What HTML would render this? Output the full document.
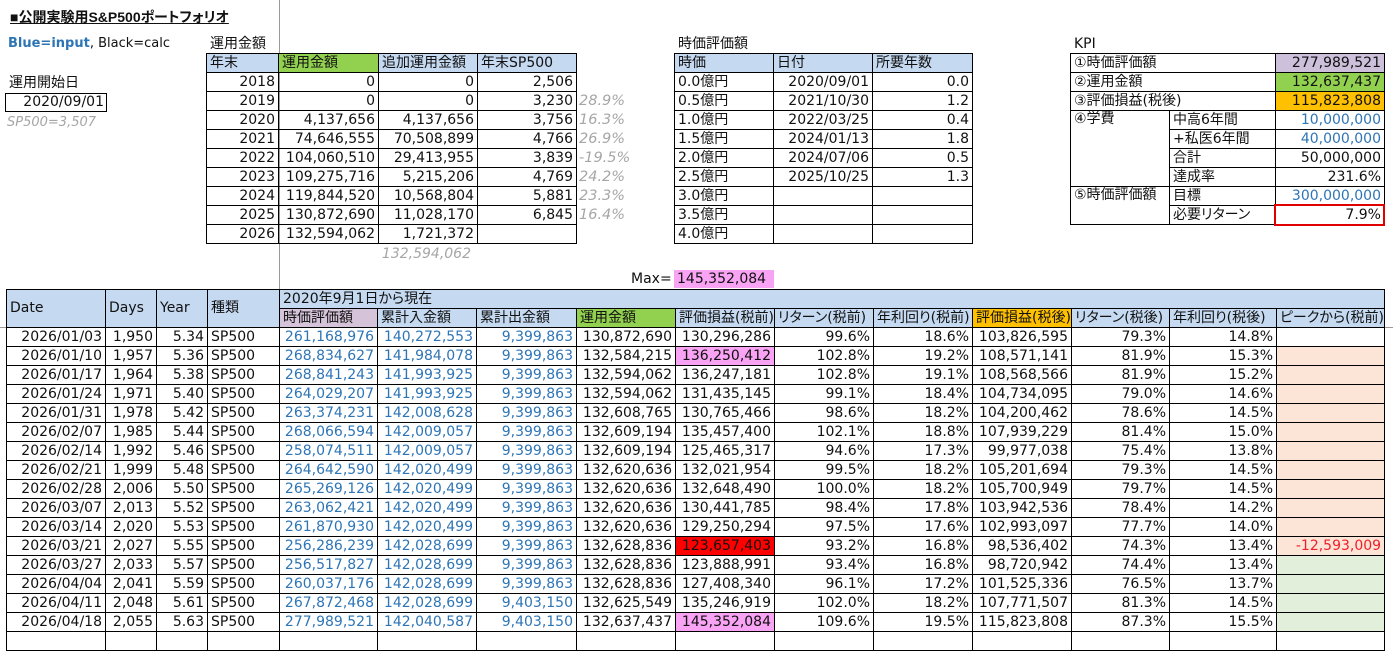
<!DOCTYPE html>
<html><head><meta charset="utf-8">
<style>
body{margin:0;width:1393px;height:640px;overflow:hidden;background:#fff;position:relative;font-family:"DejaVu Sans","Noto Sans CJK JP",sans-serif;font-size:14px;color:#111;font-feature-settings:"palt";}
.a{position:absolute;white-space:nowrap;}
table{border-collapse:collapse;table-layout:fixed;position:absolute;}
tr{height:19px;}
td{border:1px solid #000;padding:0 3px;white-space:nowrap;overflow:hidden;line-height:17px;font-size:14px;}
.r{text-align:right;}
.b{background:#c5d9f1;}
.g{background:#92d050;}
.o{background:#ffc000;}
.lv{background:#d5c3d9;}
.lk{background:#ccc0da;}
.bl{color:#2e75b6;}
.pk{background:#f9a3f4;}
.rd{background:#ff0000;}
.pe{background:#fce4d6;}
.gr{background:#e2efda;}
.gi{color:#a6a6a6;font-style:italic;}
.top{vertical-align:top;}
</style></head><body>
<div class="a" style="left:279px;top:0;width:1px;height:640px;background:#9a9a9a;"></div>
<div class="a" style="left:0;top:327px;width:1393px;height:1px;background:#9a9a9a;"></div>

<div class="a" style="left:10px;top:8px;font-family:'Liberation Sans','Noto Sans CJK JP',sans-serif;font-weight:bold;font-size:14px;text-decoration:underline;line-height:19px;">■公開実験用S&amp;P500ポートフォリオ</div>
<div class="a" style="left:8px;top:36px;font-size:13px;line-height:16px;"><b style="color:#2e75b6">Blue=input</b>, Black=calc</div>
<div class="a" style="left:9px;top:74px;font-size:14px;line-height:18px;">運用開始日</div>
<div class="a" style="left:5px;top:93px;width:98px;height:17px;border:1px solid #000;text-align:right;padding-right:2px;line-height:17px;font-size:14px;box-sizing:content-box;">2020/09/01</div>
<div class="a gi" style="left:7px;top:115px;font-size:13px;line-height:16px;">SP500=3,507</div>

<div class="a" style="left:210px;top:35px;line-height:18px;">運用金額</div>
<table style="left:206px;top:53px;width:370px;">
<col style="width:72px"><col style="width:100px"><col style="width:99px"><col style="width:99px">
<tr><td class="b">年末</td><td class="g">運用金額</td><td class="b">追加運用金額</td><td class="b">年末SP500</td></tr>
<tr><td class="r">2018</td><td class="r">0</td><td class="r">0</td><td class="r">2,506</td></tr>
<tr><td class="r">2019</td><td class="r">0</td><td class="r">0</td><td class="r">3,230</td></tr>
<tr><td class="r">2020</td><td class="r">4,137,656</td><td class="r">4,137,656</td><td class="r">3,756</td></tr>
<tr><td class="r">2021</td><td class="r">74,646,555</td><td class="r">70,508,899</td><td class="r">4,766</td></tr>
<tr><td class="r">2022</td><td class="r">104,060,510</td><td class="r">29,413,955</td><td class="r">3,839</td></tr>
<tr><td class="r">2023</td><td class="r">109,275,716</td><td class="r">5,215,206</td><td class="r">4,769</td></tr>
<tr><td class="r">2024</td><td class="r">119,844,520</td><td class="r">10,568,804</td><td class="r">5,881</td></tr>
<tr><td class="r">2025</td><td class="r">130,872,690</td><td class="r">11,028,170</td><td class="r">6,845</td></tr>
<tr><td class="r">2026</td><td class="r">132,594,062</td><td class="r">1,721,372</td><td class="r"></td></tr>
</table>
<div class="a gi" style="left:579px;top:92px;line-height:19px;font-size:14.5px;">28.9%<br>16.3%<br>26.9%<br>-19.5%<br>24.2%<br>23.3%<br>16.4%</div>
<div class="a gi" style="left:376px;top:245px;width:95px;text-align:right;line-height:19px;font-size:14px;">132,594,062</div>

<div class="a" style="left:678px;top:35px;line-height:18px;">時価評価額</div>
<table style="left:674px;top:53px;width:298px;">
<col style="width:99px"><col style="width:99px"><col style="width:100px">
<tr><td class="b">時価</td><td class="b">日付</td><td class="b">所要年数</td></tr>
<tr><td>0.0億円</td><td class="r">2020/09/01</td><td class="r">0.0</td></tr>
<tr><td>0.5億円</td><td class="r">2021/10/30</td><td class="r">1.2</td></tr>
<tr><td>1.0億円</td><td class="r">2022/03/25</td><td class="r">0.4</td></tr>
<tr><td>1.5億円</td><td class="r">2024/01/13</td><td class="r">1.8</td></tr>
<tr><td>2.0億円</td><td class="r">2024/07/06</td><td class="r">0.5</td></tr>
<tr><td>2.5億円</td><td class="r">2025/10/25</td><td class="r">1.3</td></tr>
<tr><td>3.0億円</td><td></td><td></td></tr>
<tr><td>3.5億円</td><td></td><td></td></tr>
<tr><td>4.0億円</td><td></td><td></td></tr>
</table>
<div class="a" style="left:631px;top:270px;line-height:18px;">Max=</div>
<div class="a pk" style="left:674px;top:270px;width:97px;height:18px;padding-left:3px;line-height:18px;">145,352,084</div>

<div class="a" style="left:1074px;top:35px;line-height:18px;">KPI</div>
<table style="left:1070px;top:53px;width:314px;">
<col style="width:99px"><col style="width:106px"><col style="width:109px">
<tr><td colspan="2">①時価評価額</td><td class="r lk">277,989,521</td></tr>
<tr><td colspan="2">②運用金額</td><td class="r g">132,637,437</td></tr>
<tr><td colspan="2">③評価損益(税後)</td><td class="r o">115,823,808</td></tr>
<tr><td rowspan="4" class="top">④学費</td><td>中高6年間</td><td class="r bl">10,000,000</td></tr>
<tr><td>+私医6年間</td><td class="r bl">40,000,000</td></tr>
<tr><td>合計</td><td class="r">50,000,000</td></tr>
<tr><td>達成率</td><td class="r">231.6%</td></tr>
<tr><td rowspan="2" class="top">⑤時価評価額</td><td>目標</td><td class="r bl">300,000,000</td></tr>
<tr><td>必要リターン</td><td class="r">7.9%</td></tr>
</table>
<div class="a" style="left:1274px;top:204px;width:107px;height:18px;border:2px solid #e00000;"></div>

<table style="left:6px;top:289px;width:1378px;">
<col style="width:99px"><col style="width:51px"><col style="width:51px"><col style="width:72px"><col style="width:98px"><col style="width:99px"><col style="width:100px"><col style="width:99px"><col style="width:99px"><col style="width:99px"><col style="width:99px"><col style="width:99px"><col style="width:98px"><col style="width:107px"><col style="width:108px">
<tr><td rowspan="2" class="b">Date</td><td rowspan="2" class="b">Days</td><td rowspan="2" class="b">Year</td><td rowspan="2" class="b">種類</td><td colspan="11" class="b">2020年9月1日から現在</td></tr>
<tr><td class="lv">時価評価額</td><td class="b">累計入金額</td><td class="b">累計出金額</td><td class="g">運用金額</td><td class="b">評価損益(税前)</td><td class="b">リターン(税前)</td><td class="b">年利回り(税前)</td><td class="o">評価損益(税後)</td><td class="b">リターン(税後)</td><td class="b">年利回り(税後)</td><td class="b">ピークから(税前)</td></tr>
<tr><td class="r">2026/01/03</td><td class="r">1,950</td><td class="r">5.34</td><td>SP500</td><td class="r bl">261,168,976</td><td class="r bl">140,272,553</td><td class="r bl">9,399,863</td><td class="r">130,872,690</td><td class="r">130,296,286</td><td class="r">99.6%</td><td class="r">18.6%</td><td class="r">103,826,595</td><td class="r">79.3%</td><td class="r">14.8%</td><td></td></tr>
<tr><td class="r">2026/01/10</td><td class="r">1,957</td><td class="r">5.36</td><td>SP500</td><td class="r bl">268,834,627</td><td class="r bl">141,984,078</td><td class="r bl">9,399,863</td><td class="r">132,584,215</td><td class="r pk">136,250,412</td><td class="r">102.8%</td><td class="r">19.2%</td><td class="r">108,571,141</td><td class="r">81.9%</td><td class="r">15.3%</td><td class="pe"></td></tr>
<tr><td class="r">2026/01/17</td><td class="r">1,964</td><td class="r">5.38</td><td>SP500</td><td class="r bl">268,841,243</td><td class="r bl">141,993,925</td><td class="r bl">9,399,863</td><td class="r">132,594,062</td><td class="r">136,247,181</td><td class="r">102.8%</td><td class="r">19.1%</td><td class="r">108,568,566</td><td class="r">81.9%</td><td class="r">15.2%</td><td class="pe"></td></tr>
<tr><td class="r">2026/01/24</td><td class="r">1,971</td><td class="r">5.40</td><td>SP500</td><td class="r bl">264,029,207</td><td class="r bl">141,993,925</td><td class="r bl">9,399,863</td><td class="r">132,594,062</td><td class="r">131,435,145</td><td class="r">99.1%</td><td class="r">18.4%</td><td class="r">104,734,095</td><td class="r">79.0%</td><td class="r">14.6%</td><td class="pe"></td></tr>
<tr><td class="r">2026/01/31</td><td class="r">1,978</td><td class="r">5.42</td><td>SP500</td><td class="r bl">263,374,231</td><td class="r bl">142,008,628</td><td class="r bl">9,399,863</td><td class="r">132,608,765</td><td class="r">130,765,466</td><td class="r">98.6%</td><td class="r">18.2%</td><td class="r">104,200,462</td><td class="r">78.6%</td><td class="r">14.5%</td><td class="pe"></td></tr>
<tr><td class="r">2026/02/07</td><td class="r">1,985</td><td class="r">5.44</td><td>SP500</td><td class="r bl">268,066,594</td><td class="r bl">142,009,057</td><td class="r bl">9,399,863</td><td class="r">132,609,194</td><td class="r">135,457,400</td><td class="r">102.1%</td><td class="r">18.8%</td><td class="r">107,939,229</td><td class="r">81.4%</td><td class="r">15.0%</td><td class="pe"></td></tr>
<tr><td class="r">2026/02/14</td><td class="r">1,992</td><td class="r">5.46</td><td>SP500</td><td class="r bl">258,074,511</td><td class="r bl">142,009,057</td><td class="r bl">9,399,863</td><td class="r">132,609,194</td><td class="r">125,465,317</td><td class="r">94.6%</td><td class="r">17.3%</td><td class="r">99,977,038</td><td class="r">75.4%</td><td class="r">13.8%</td><td class="pe"></td></tr>
<tr><td class="r">2026/02/21</td><td class="r">1,999</td><td class="r">5.48</td><td>SP500</td><td class="r bl">264,642,590</td><td class="r bl">142,020,499</td><td class="r bl">9,399,863</td><td class="r">132,620,636</td><td class="r">132,021,954</td><td class="r">99.5%</td><td class="r">18.2%</td><td class="r">105,201,694</td><td class="r">79.3%</td><td class="r">14.5%</td><td class="pe"></td></tr>
<tr><td class="r">2026/02/28</td><td class="r">2,006</td><td class="r">5.50</td><td>SP500</td><td class="r bl">265,269,126</td><td class="r bl">142,020,499</td><td class="r bl">9,399,863</td><td class="r">132,620,636</td><td class="r">132,648,490</td><td class="r">100.0%</td><td class="r">18.2%</td><td class="r">105,700,949</td><td class="r">79.7%</td><td class="r">14.5%</td><td class="pe"></td></tr>
<tr><td class="r">2026/03/07</td><td class="r">2,013</td><td class="r">5.52</td><td>SP500</td><td class="r bl">263,062,421</td><td class="r bl">142,020,499</td><td class="r bl">9,399,863</td><td class="r">132,620,636</td><td class="r">130,441,785</td><td class="r">98.4%</td><td class="r">17.8%</td><td class="r">103,942,536</td><td class="r">78.4%</td><td class="r">14.2%</td><td class="pe"></td></tr>
<tr><td class="r">2026/03/14</td><td class="r">2,020</td><td class="r">5.53</td><td>SP500</td><td class="r bl">261,870,930</td><td class="r bl">142,020,499</td><td class="r bl">9,399,863</td><td class="r">132,620,636</td><td class="r">129,250,294</td><td class="r">97.5%</td><td class="r">17.6%</td><td class="r">102,993,097</td><td class="r">77.7%</td><td class="r">14.0%</td><td class="pe"></td></tr>
<tr><td class="r">2026/03/21</td><td class="r">2,027</td><td class="r">5.55</td><td>SP500</td><td class="r bl">256,286,239</td><td class="r bl">142,028,699</td><td class="r bl">9,399,863</td><td class="r">132,628,836</td><td class="r rd">123,657,403</td><td class="r">93.2%</td><td class="r">16.8%</td><td class="r">98,536,402</td><td class="r">74.3%</td><td class="r">13.4%</td><td class="r pe" style="color:#f0202a">-12,593,009</td></tr>
<tr><td class="r">2026/03/27</td><td class="r">2,033</td><td class="r">5.57</td><td>SP500</td><td class="r bl">256,517,827</td><td class="r bl">142,028,699</td><td class="r bl">9,399,863</td><td class="r">132,628,836</td><td class="r">123,888,991</td><td class="r">93.4%</td><td class="r">16.8%</td><td class="r">98,720,942</td><td class="r">74.4%</td><td class="r">13.4%</td><td class="gr"></td></tr>
<tr><td class="r">2026/04/04</td><td class="r">2,041</td><td class="r">5.59</td><td>SP500</td><td class="r bl">260,037,176</td><td class="r bl">142,028,699</td><td class="r bl">9,399,863</td><td class="r">132,628,836</td><td class="r">127,408,340</td><td class="r">96.1%</td><td class="r">17.2%</td><td class="r">101,525,336</td><td class="r">76.5%</td><td class="r">13.7%</td><td class="gr"></td></tr>
<tr><td class="r">2026/04/11</td><td class="r">2,048</td><td class="r">5.61</td><td>SP500</td><td class="r bl">267,872,468</td><td class="r bl">142,028,699</td><td class="r bl">9,403,150</td><td class="r">132,625,549</td><td class="r">135,246,919</td><td class="r">102.0%</td><td class="r">18.2%</td><td class="r">107,771,507</td><td class="r">81.3%</td><td class="r">14.5%</td><td class="gr"></td></tr>
<tr><td class="r">2026/04/18</td><td class="r">2,055</td><td class="r">5.63</td><td>SP500</td><td class="r bl">277,989,521</td><td class="r bl">142,040,587</td><td class="r bl">9,403,150</td><td class="r">132,637,437</td><td class="r pk">145,352,084</td><td class="r">109.6%</td><td class="r">19.5%</td><td class="r">115,823,808</td><td class="r">87.3%</td><td class="r">15.5%</td><td class="gr"></td></tr>
<tr><td></td><td></td><td></td><td></td><td></td><td></td><td></td><td></td><td></td><td></td><td></td><td></td><td></td><td></td><td></td></tr>
</table>
</body></html>
